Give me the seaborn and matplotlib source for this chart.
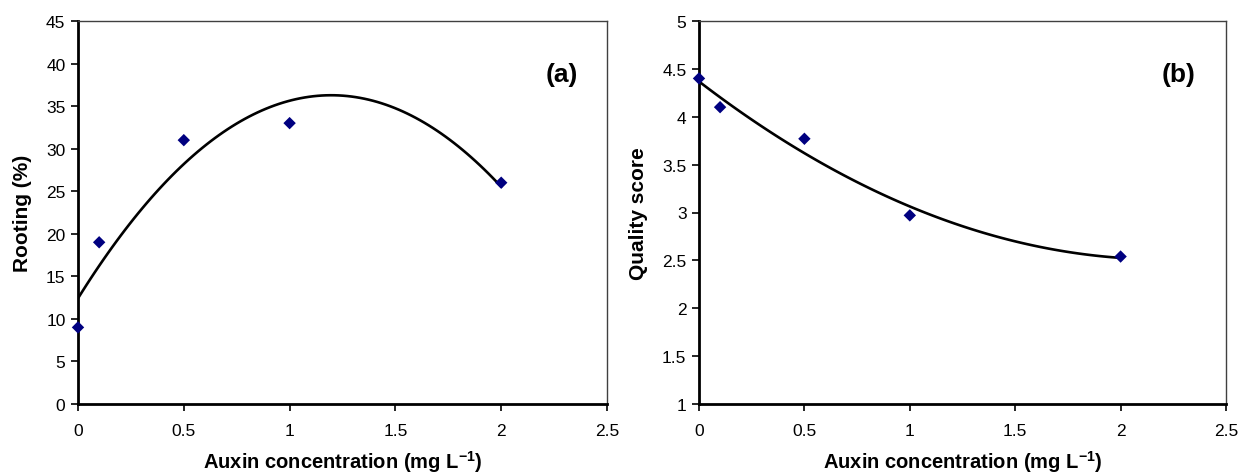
import numpy as np
import pandas as pd
import seaborn as sns
import matplotlib
matplotlib.use("Agg")
import matplotlib.pyplot as plt

# Data
auxin = [0, 0.1, 0.5, 1, 2]
rooting = [9, 19, 31, 33, 26]
quality = [4.4, 4.1, 3.77, 2.97, 2.54]

x_ticks = [0, 0.5, 1, 1.5, 2, 2.5]
x_tick_labels = ["0", "0.5", "1", "1.5", "2", "2.5"]
rooting_ticks = list(range(0, 50, 5))
quality_ticks = [1, 1.5, 2, 2.5, 3, 3.5, 4, 4.5, 5]
quality_tick_labels = ["1", "1.5", "2", "2.5", "3", "3.5", "4", "4.5", "5"]

sns.set_theme(style="white")
plt.rcParams["font.family"] = ["Liberation Sans", "DejaVu Sans"]
plt.rcParams["text.color"] = "black"
plt.rcParams["axes.labelcolor"] = "black"
plt.rcParams["xtick.color"] = "black"
plt.rcParams["ytick.color"] = "black"
plt.rcParams["axes.unicode_minus"] = False

df = pd.DataFrame({"auxin": auxin, "rooting": rooting, "quality": quality})

fig = plt.figure(figsize=(12.42, 4.77), dpi=100)
W, H = 1242, 477
ax1 = fig.add_axes([78 / W, 1 - 405 / H, (607 - 78) / W, (405 - 22) / H])
ax2 = fig.add_axes([699 / W, 1 - 405 / H, (1226 - 699) / W, (405 - 22) / H])

panels = [
    (ax1, "rooting", "Rooting (%)", (0, 45), rooting_ticks, [str(t) for t in rooting_ticks], "(a)", -0.104, 0.915),
    (ax2, "quality", "Quality score", (1, 5), quality_ticks, quality_tick_labels, "(b)", -0.114, 0.910),
]

for ax, col, ylabel, ylim, yt, ytl, tag, ylab_x, tag_x in panels:
    sns.regplot(data=df, x="auxin", y=col, order=2, ci=None, ax=ax, truncate=True,
                marker="D",
                scatter_kws={"color": "#000080", "s": 40, "alpha": 1, "edgecolor": "none",
                             "zorder": 3, "clip_on": False},
                line_kws={"color": "black", "lw": 1.9, "zorder": 2})
    ax.set_xlim(0, 2.5)
    ax.set_ylim(*ylim)
    ax.set_xticks(x_ticks)
    ax.set_xticklabels(x_tick_labels)
    ax.set_yticks(yt)
    ax.set_yticklabels(ytl)
    ax.tick_params(axis="both", which="major", direction="out", length=5, width=1.2,
                   color="black", labelsize=12.5, labelcolor="black", bottom=True, left=True, pad=4)
    ax.tick_params(axis="x", pad=9)
    for s in ["left", "bottom"]:
        ax.spines[s].set_color("black")
        ax.spines[s].set_linewidth(2.0)
    for s in ["top", "right"]:
        ax.spines[s].set_color("#404040")
        ax.spines[s].set_linewidth(1.0)
    ax.set_xlabel("Auxin concentration (mg L$^{\\mathregular{-1}}$)", fontsize=14.5,
                  fontweight="bold", color="black")
    ax.xaxis.set_label_coords(0.5, -(462 - 405) / 383)
    ax.xaxis.label.set_va("center")
    ax.set_ylabel(ylabel, fontsize=15, fontweight="bold", color="black")
    ax.yaxis.set_label_coords(ylab_x, 0.5)
    ax.yaxis.label.set_va("center")
    ax.text(tag_x, 0.862, tag, transform=ax.transAxes, fontsize=19, fontweight="bold",
            ha="center", va="center", color="black")
    ax.grid(False)

fig.savefig("out.png", dpi=100, facecolor="white")
